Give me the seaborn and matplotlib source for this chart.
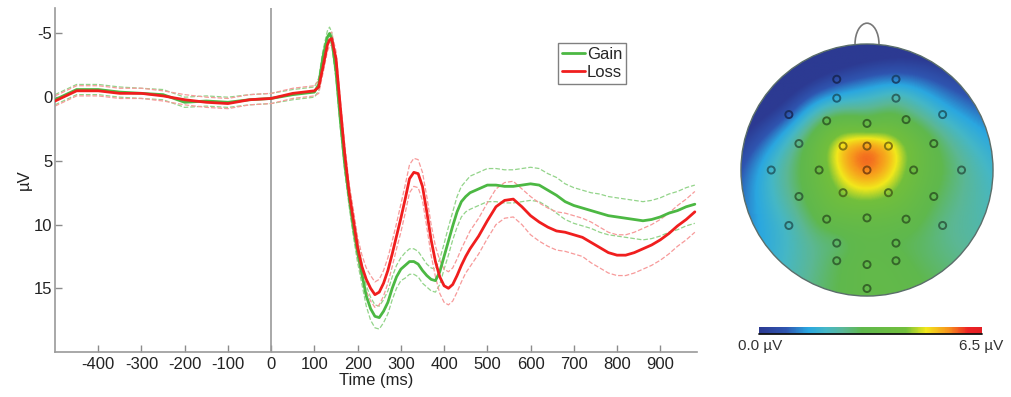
import numpy as np
import matplotlib
matplotlib.use("Agg")
import matplotlib.pyplot as plt
import seaborn as sns
from matplotlib.colors import LinearSegmentedColormap, Normalize
from matplotlib.patches import Circle, Arc
from matplotlib.cm import ScalarMappable

sns.set_style("white")
plt.rcParams['font.family'] = ['Liberation Sans', 'DejaVu Sans']
plt.rcParams['axes.unicode_minus'] = False

# ------------------------- ERP waveforms -------
time_ms = [-500, -450, -400, -350, -300, -250, -200, -150, -100, -50, 0, 50, 100,
           110, 120, 130, 135, 140, 150, 160, 170, 180, 190, 200, 210, 220, 230,
           240, 250, 260, 270, 280, 290, 300, 310, 320, 330, 340, 350, 360, 370,
           380, 390, 400, 410, 420, 430, 440, 450, 460,
           480, 500, 520, 540, 560, 580, 600, 620, 640, 660, 680, 700, 720, 740,
           760, 780, 800, 820, 840, 860, 880, 900, 920, 940, 960, 980]

gain_uv = [0.2, -0.6, -0.6, -0.4, -0.3, -0.2, 0.4, 0.3, 0.4, 0.2, 0.1, -0.2, -0.4,
           -1.0, -3.2, -4.7, -5.0, -4.6, -2.0, 1.8, 5.2, 7.8, 10.2, 12.2, 13.9, 15.6, 16.6,
           17.2, 17.3, 16.8, 16.1, 15.0, 14.1, 13.5, 13.2, 12.9, 12.9, 13.1, 13.6, 14.0, 14.3,
           14.4, 13.7, 12.5, 11.3, 10.1, 9.0, 8.2, 7.8, 7.5,
           7.2, 6.9, 6.9, 7.0, 7.0, 6.9, 6.8, 6.9, 7.3, 7.7, 8.2, 8.5, 8.7, 8.9,
           9.1, 9.3, 9.4, 9.5, 9.6, 9.7, 9.6, 9.4, 9.1, 8.9, 8.6, 8.4]

loss_uv = [0.3, -0.5, -0.5, -0.3, -0.3, -0.1, 0.2, 0.4, 0.5, 0.2, 0.1, -0.3, -0.5,
           -0.8, -2.4, -4.1, -4.5, -4.6, -3.0, 0.8, 4.4, 7.4, 9.6, 11.8, 13.3, 14.3, 15.0,
           15.5, 15.3, 14.6, 13.6, 12.3, 10.9, 9.5, 8.0, 6.4, 5.9, 6.0, 7.0, 9.0, 11.2,
           12.9, 14.1, 14.8, 15.0, 14.7, 14.0, 13.2, 12.5, 11.9,
           10.9, 9.7, 8.6, 8.1, 8.0, 8.6, 9.3, 9.8, 10.2, 10.5, 10.6, 10.8, 11.0, 11.4,
           11.8, 12.2, 12.4, 12.4, 12.2, 11.9, 11.6, 11.2, 10.7, 10.1, 9.6, 9.0]

gain_sem = [0.4, 0.4, 0.4, 0.4, 0.4, 0.4, 0.4, 0.4, 0.4, 0.4, 0.4, 0.4, 0.4,
            0.5, 0.5, 0.5, 0.5, 0.5, 0.6, 0.6, 0.6, 0.7, 0.7, 0.8, 0.8, 0.8, 0.9,
            0.9, 0.9, 0.9, 0.9, 0.9, 0.9, 0.9, 1.0, 1.0, 1.0, 1.0, 1.0, 0.9, 0.9,
            0.9, 1.0, 1.0, 1.1, 1.1, 1.2, 1.2, 1.2, 1.3,
            1.3, 1.3, 1.3, 1.3, 1.3, 1.3, 1.3, 1.3, 1.3, 1.4, 1.4, 1.4, 1.4, 1.4,
            1.5, 1.5, 1.5, 1.5, 1.5, 1.5, 1.5, 1.5, 1.5, 1.5, 1.5, 1.5]

loss_sem = [0.4, 0.4, 0.4, 0.4, 0.4, 0.4, 0.4, 0.4, 0.4, 0.4, 0.4, 0.4, 0.4,
            0.5, 0.5, 0.5, 0.5, 0.5, 0.6, 0.6, 0.7, 0.7, 0.8, 0.8, 0.9, 0.9, 1.0,
            1.0, 1.0, 1.0, 1.0, 1.0, 1.0, 1.1, 1.1, 1.1, 1.1, 1.1, 1.1, 1.2, 1.2,
            1.2, 1.3, 1.3, 1.3, 1.3, 1.3, 1.3, 1.3, 1.4,
            1.4, 1.4, 1.4, 1.4, 1.4, 1.4, 1.5, 1.5, 1.5, 1.5, 1.5, 1.5, 1.5, 1.6,
            1.6, 1.6, 1.6, 1.6, 1.6, 1.6, 1.6, 1.6, 1.6, 1.6, 1.6, 1.6]

x_ticks = [-400, -300, -200, -100, 0, 100, 200, 300, 400, 500, 600, 700, 800, 900]
y_ticks = [-5, 0, 5, 10, 15]

# ------------------------- topography (electrode layout + amplitude) --
elec_x = [-0.24, 0.23,
          -0.24, 0.23,
          -0.62, -0.32, 0.00, 0.31, 0.60,
          -0.54, -0.19, 0.00, 0.17, 0.53,
          -0.76, -0.38, 0.00, 0.37, 0.75,
          -0.54, -0.19, 0.17, 0.53,
          -0.62, -0.32, 0.00, 0.31, 0.60,
          -0.24, 0.23,
          -0.24, 0.00, 0.23,
          0.00]
elec_y = [0.72, 0.72,
          0.57, 0.57,
          0.44, 0.39, 0.37, 0.40, 0.44,
          0.21, 0.19, 0.19, 0.19, 0.21,
          0.00, 0.00, 0.00, 0.00, 0.00,
          -0.21, -0.18, -0.18, -0.21,
          -0.44, -0.39, -0.38, -0.39, -0.44,
          -0.58, -0.58,
          -0.72, -0.75, -0.72,
          -0.94]
elec_uv = [0.5, 1.1,
           1.6, 2.2,
           0.8, 3.0, 3.4, 3.0, 1.8,
           2.6, 5.0, 5.4, 5.0, 3.0,
           1.9, 3.8, 5.6, 3.9, 2.5,
           2.8, 4.4, 4.4, 3.0,
           2.1, 3.3, 3.6, 3.3, 2.6,
           2.8, 3.0,
           2.9, 3.2, 3.1,
           3.2]
cbar_range = [0.0, 6.5]

GREEN, RED = '#4cb843', '#f01e1e'
GREEN_L, RED_L = '#93d48a', '#f79a9a'
AX_GREY = '#8c8c8c'

fig = plt.figure(figsize=(10.11, 3.97), dpi=100)

# ------------------------- ERP panel ---------------------------------
ax = fig.add_axes([55/1011, 45/397, 642/1011, 344/397])
t = np.array(time_ms)
g, l = np.array(gain_uv), np.array(loss_uv)
gs, ls = np.array(gain_sem), np.array(loss_sem)

ax.axvline(0, color='#9a9a9a', lw=1.2, zorder=1)
for mean, sem, col in [(g, gs, GREEN_L), (l, ls, RED_L)]:
    for sign in (1, -1):
        sns.lineplot(x=t, y=mean + sign*sem, ax=ax, color=col, lw=0.9,
                     linestyle='--', sort=False, zorder=2)
sns.lineplot(x=t, y=g, ax=ax, color=GREEN, lw=2.0, label='Gain', sort=False, zorder=3)
sns.lineplot(x=t, y=l, ax=ax, color=RED, lw=2.0, label='Loss', sort=False, zorder=4)

ax.set_xlim(-500, 985)
ax.set_ylim(20, -7)
ax.set_xticks(x_ticks)
ax.set_yticks(y_ticks)
ax.xaxis.set_tick_params(which='major', direction='in', length=5, width=1.0,
                         color=AX_GREY, bottom=True, labelsize=12, labelcolor='#222')
ax.yaxis.set_tick_params(which='major', direction='in', length=5, width=1.0,
                         color=AX_GREY, left=True, labelsize=12, labelcolor='#222', pad=2)
for s in ['top', 'right']:
    ax.spines[s].set_visible(False)
for s in ['left', 'bottom']:
    ax.spines[s].set_color('#9a9a9a')
    ax.spines[s].set_linewidth(1.2)
ax.set_xlabel('Time (ms)', fontsize=12, color='#222')
ax.set_ylabel('µV', fontsize=12, color='#222')
ax.xaxis.set_label_coords(0.5, -0.06)
ax.yaxis.set_label_coords(-0.036, 0.5)

leg = ax.legend(loc='upper left', bbox_to_anchor=(0.783, 0.898), borderaxespad=0,
                fontsize=12, handlelength=1.4, handletextpad=0.1, borderpad=0.25,
                labelspacing=0.15, fancybox=False, framealpha=1)
leg.get_frame().set_edgecolor('#808080')
leg.get_frame().set_linewidth(1.0)

# ------------------------- topography panel --------------------------
cmap = LinearSegmentedColormap.from_list('topo', [
    (0.00, '#2c3a92'), (0.12, '#2f55b0'), (0.22, '#2aa7e0'), (0.30, '#45b7c6'),
    (0.38, '#5bb795'), (0.46, '#5fb84d'), (0.66, '#72bf3c'), (0.75, '#f2e81b'),
    (0.85, '#f7941d'), (0.94, '#ed2224'), (1.00, '#e31e24')])
norm = Normalize(*cbar_range)

ex, ey, ev = np.array(elec_x), np.array(elec_y), np.array(elec_uv)

# thin-plate spline through the electrode values (standard topomap fill)
P = np.c_[ex, ey]
def tps_kernel(d):
    with np.errstate(divide='ignore', invalid='ignore'):
        k = d**2 * np.log(d)
    return np.nan_to_num(k)
D = np.hypot(P[:, None, 0] - P[None, :, 0], P[:, None, 1] - P[None, :, 1])
n = len(ev)
A = np.zeros((n + 3, n + 3))
A[:n, :n] = tps_kernel(D) + 2e-3*np.eye(n)
A[:n, n:] = np.c_[np.ones(n), ex, ey]
A[n:, :n] = A[:n, n:].T
coef = np.linalg.solve(A, np.r_[ev, np.zeros(3)])
gx, gy = np.meshgrid(np.linspace(-1, 1, 240), np.linspace(-1, 1, 240))
Dg = np.hypot(gx.ravel()[:, None] - ex[None, :], gy.ravel()[:, None] - ey[None, :])
field = tps_kernel(Dg) @ coef[:n] + coef[n] + coef[n+1]*gx.ravel() + coef[n+2]*gy.ravel()
field = np.clip(field.reshape(gx.shape), *cbar_range)

tax = fig.add_axes([730/1011, 92/397, 274/1011, 290/397])
tax.set_xlim(-1.087, 1.087)
tax.set_ylim(-1.071, 1.230)
tax.set_aspect('auto')
tax.axis('off')
head = Circle((0, 0), 1.0, transform=tax.transData, fc='none')
im = tax.imshow(field, extent=[-1, 1, -1, 1], origin='lower', cmap=cmap, norm=norm,
                interpolation='bilinear', aspect='auto')
im.set_clip_path(head)
tax.add_patch(Circle((0, 0), 1.0, fill=False, ec='#5a6e6a', lw=1.0))
tax.add_patch(Arc((0, 1.0), 0.19, 0.33, theta1=0, theta2=180, color='#777777', lw=1.2))
edge_cols = [tuple(np.array(cmap(norm(v))[:3]) * 0.55) for v in ev]
tax.scatter(ex, ey, s=26, facecolors='none', edgecolors=edge_cols, linewidths=1.4, zorder=5)

# colour bar
cax = fig.add_axes([759/1011, 63/397, 223/1011, 7/397])
cb = fig.colorbar(ScalarMappable(norm=norm, cmap=cmap), cax=cax, orientation='horizontal')
cb.set_ticks([])
cb.outline.set_visible(False)
cax.plot([0, 1], [0, 0], transform=cax.transAxes, color='#111', lw=1.3, clip_on=False)
fig.text(760/1011, 1 - 346/397, f'{cbar_range[0]:.1f} µV', ha='center', va='center',
         fontsize=11, color='#333')
fig.text(981/1011, 1 - 346/397, f'{cbar_range[1]:.1f} µV', ha='center', va='center',
         fontsize=11, color='#333')

fig.savefig('out.png', dpi=100)
